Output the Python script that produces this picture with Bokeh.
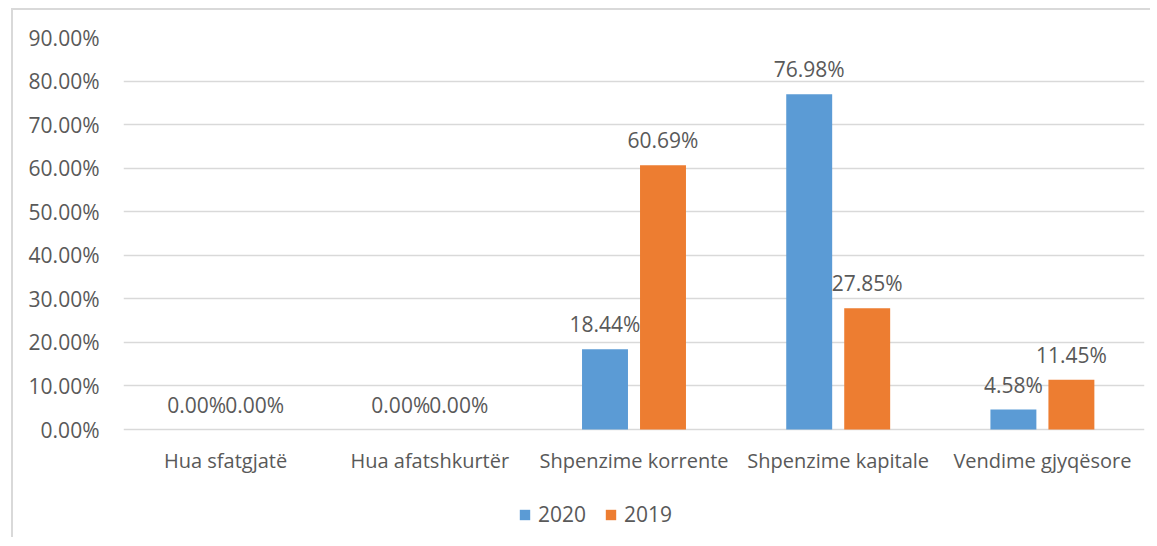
from bokeh.plotting import figure
from bokeh.models import (ColumnDataSource, FactorRange, FixedTicker, PrintfTickFormatter,
                          LabelSet, Legend, LegendItem, Range1d)
from bokeh.core.properties import value
from bokeh.transform import dodge
from bokeh.embed import file_html
from bokeh.resources import INLINE

categories = ["Hua sfatgjatë", "Hua afatshkurtër", "Shpenzime korrente",
              "Shpenzime kapitale", "Vendime gjyqësore"]
series_names = ["2020", "2019"]
values_2020 = [0.00, 0.00, 18.44, 76.98, 4.58]
values_2019 = [0.00, 0.00, 60.69, 27.85, 11.45]
y_ticks = [0, 10, 20, 30, 40, 50, 60, 70, 80, 90]

BLUE = "#5B9BD5"
ORANGE = "#ED7D31"
TEXT = "#595959"
GRID = "#d9d9d9"
FONT = "Open Sans"

Y_MAX = 90
PX_PER_UNIT = 392 / Y_MAX
FRAME_H = 500
y_start = Y_MAX - FRAME_H / PX_PER_UNIT  # extra room below 0 for category labels + legend

src = ColumnDataSource(dict(
    cat=categories,
    zero=[0] * len(categories),
    v2020=values_2020,
    v2019=values_2019,
    l2020=[f"{v:.2f}%" for v in values_2020],
    l2019=[f"{v:.2f}%" for v in values_2019],
))

p = figure(x_range=FactorRange(*categories), y_range=Range1d(y_start, Y_MAX),
           frame_width=1021, frame_height=FRAME_H, output_backend="svg", toolbar_location=None,
           min_border_left=123, min_border_right=6, min_border_top=37, min_border_bottom=0)
p.outline_line_color = None
p.border_fill_color = None
p.background_fill_color = "white"
p.styles = {
    "background": ("linear-gradient(#d9d9d9, #d9d9d9) 11px 8px / 2px 100% no-repeat, "
                   "linear-gradient(#d9d9d9, #d9d9d9) 11px 8px / 100% 2px no-repeat, white"),
}

off = 0.142
bw = 0.225
r1 = p.vbar(x=dodge("cat", -off, range=p.x_range), top="v2020", width=bw, source=src,
            fill_color=BLUE, line_color=None)
r2 = p.vbar(x=dodge("cat", off, range=p.x_range), top="v2019", width=bw, source=src,
            fill_color=ORANGE, line_color=None)

for col, lab, o in (("v2020", "l2020", -off), ("v2019", "l2019", off)):
    ls = LabelSet(x=dodge("cat", o, range=p.x_range), y=col, text=lab, source=src,
                  text_align="center", text_baseline="middle", y_offset=25,
                  text_font=value(FONT), text_font_size="21px", text_color=TEXT)
    p.add_layout(ls)

# category labels under the zero line
cl = LabelSet(x="cat", y="zero", text="cat", source=src,
              text_align="center", text_baseline="middle", y_offset=-31,
              text_font=value(FONT), text_font_size="20px", text_color=TEXT)
p.add_layout(cl)

p.xgrid.grid_line_color = None
p.ygrid.grid_line_color = GRID
p.ygrid.grid_line_width = 1.5
p.xaxis.visible = False

p.yaxis.ticker = FixedTicker(ticks=y_ticks)
p.yaxis.formatter = PrintfTickFormatter(format="%.2f%%")
p.yaxis.axis_line_color = None
p.yaxis.major_tick_line_color = None
p.yaxis.minor_tick_line_color = None
p.yaxis.major_label_standoff = 18
p.yaxis.major_label_text_font = FONT
p.yaxis.major_label_text_font_size = "21px"
p.yaxis.major_label_text_color = TEXT

legend = Legend(items=[LegendItem(label=series_names[0], renderers=[r1]),
                       LegendItem(label=series_names[1], renderers=[r2])],
                orientation="horizontal", location=(395, 9),
                glyph_width=13, glyph_height=13, label_standoff=7, spacing=18,
                label_text_font=FONT, label_text_font_size="21px", label_text_color=TEXT,
                border_line_color=None, background_fill_alpha=0, padding=6, margin=0)
p.add_layout(legend, "center")

open("out.html", "w").write(file_html(p, INLINE))
